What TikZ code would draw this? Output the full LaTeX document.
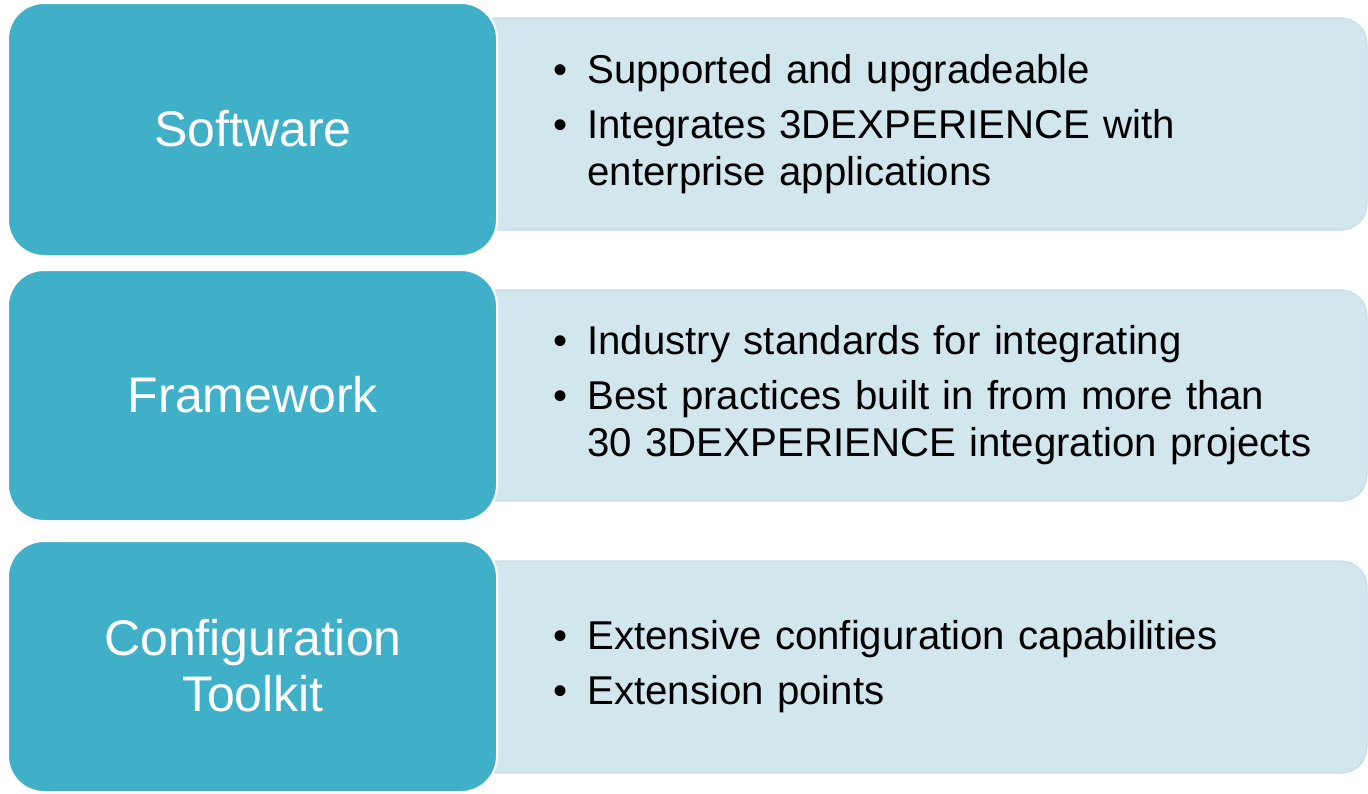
\documentclass[tikz,border=0pt]{standalone}
\usepackage{fontspec}
\setmainfont{Liberation Sans}
\definecolor{teal1}{HTML}{40AFC8}
\definecolor{pale}{HTML}{D2E6ED}
\definecolor{paleedge}{HTML}{C6DEE6}
\newcommand{\bul}{\makebox[17pt][l]{\textbullet}}
\newcommand{\ind}{\hspace*{17pt}}
\begin{document}
\begin{tikzpicture}[x=0.5pt,y=-0.5pt,
  headbox/.style={fill=teal1,draw=white,line width=1pt,rounded corners=18pt},
  infobox/.style={fill=pale,draw=paleedge,line width=0.6pt,rounded corners=13pt},
  headtext/.style={text=white,font=\fontsize{25}{28}\selectfont,align=center},
  bodytext/.style={anchor=west,text=black,font=\fontsize{20.1}{23.5}\selectfont,align=left,text width=420pt,inner sep=0pt}]
\useasboundingbox (0,0) rectangle (1368,793);
% info boxes
\draw[infobox] (470,18) rectangle (1367,230);
\draw[infobox] (470,290) rectangle (1367,501);
\draw[infobox] (470,561) rectangle (1367,773);
% head boxes
\draw[headbox] (8,3) rectangle (497,256);
\draw[headbox] (8,270) rectangle (497,521);
\draw[headbox] (8,541) rectangle (497,792);
\node[headtext] (h1) at (253,129) {Software};
\node[headtext] (h2) at (253,395) {Framework};
\node[headtext] (h3) at (253,666) {Configuration\\Toolkit};
\node[bodytext] (b1) at (553,124) {\bul Supported and upgradeable\\[4pt]\bul Integrates 3DEXPERIENCE with\\\ind enterprise applications};
\node[bodytext] (b2) at (553,395) {\bul Industry standards for integrating\\[4pt]\bul Best practices built in from more than\\\ind 30 3DEXPERIENCE integration projects};
\node[bodytext] (b3) at (553,667) {\bul Extensive configuration capabilities\\[4pt]\bul Extension points};
\end{tikzpicture}
\end{document}
